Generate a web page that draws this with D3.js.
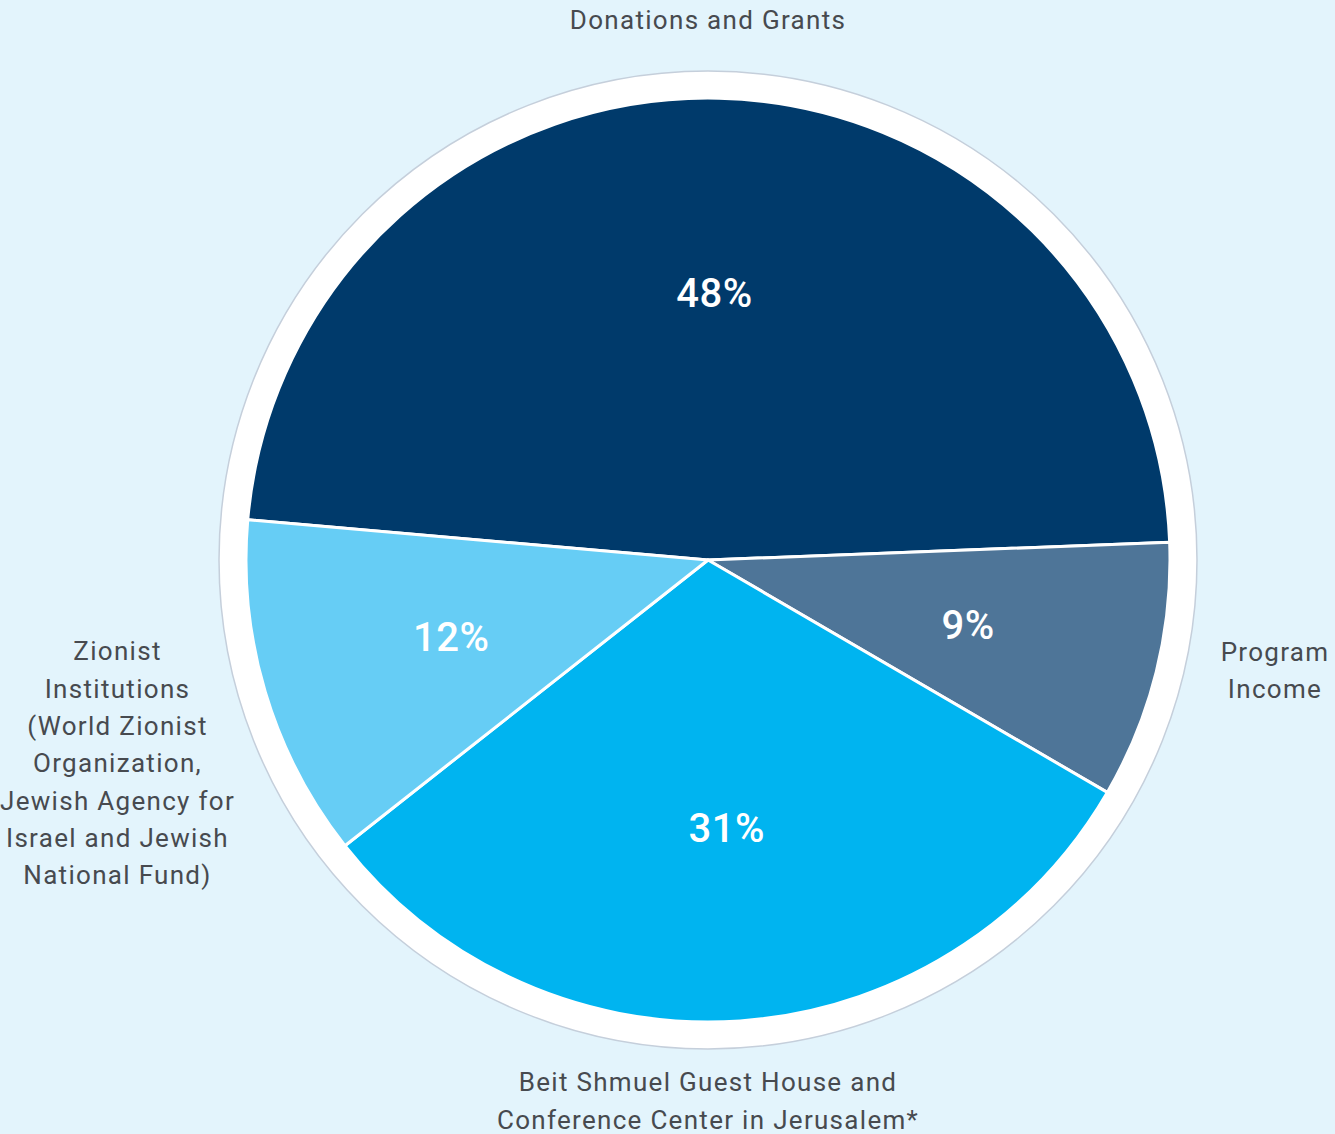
<!DOCTYPE html>
<html>
<head>
<meta charset="utf-8">
<script src="https://cdn.jsdelivr.net/npm/d3@7"></script>
<style>
  html, body { margin: 0; padding: 0; background: #e3f4fc; }
  svg { display: block; }
</style>
</head>
<body>
<div id="chart"></div>
<script>
// data
var categories = [
    ["Donations and Grants"],
    ["Program", "Income"],
    ["Beit Shmuel Guest House and", "Conference Center in Jerusalem*"],
    ["Zionist", "Institutions", "(World Zionist", "Organization,", "Jewish Agency for", "Israel and Jewish", "National Fund)"]
];
var values = [48, 9, 31, 12];
var colors = ["#003a6b", "#4e7598", "#00b4f0", "#66cdf5"];

var W = 1335, H = 1134;
var cx = 708, cy = 560;
var r = 462, ringR = 489;
var lineH = 37.3;

var svg = d3.select("#chart")
    .append("svg")
    .attr("width", W)
    .attr("height", H);

svg.append("rect")
    .attr("width", W)
    .attr("height", H)
    .attr("fill", "#e3f4fc");

var g = svg.append("g")
    .attr("transform", "translate(" + cx + "," + cy + ")");

// white ring behind the pie
g.append("circle")
    .attr("r", ringR)
    .attr("fill", "#fff")
    .attr("stroke", "#c5cfdb")
    .attr("stroke-width", 1.5);

var pie = d3.pie()
    .sort(null)
    .startAngle(-85 * Math.PI / 180)
    .endAngle(275 * Math.PI / 180);

var arcs = pie(values);

var arc = d3.arc().innerRadius(0).outerRadius(r);
var labelArc = d3.arc().innerRadius(r * 0.58).outerRadius(r * 0.58);

g.selectAll(".slice")
    .data(arcs)
    .enter()
    .append("path")
    .attr("class", "slice")
    .attr("d", arc)
    .attr("fill", function(d, i) { return colors[i]; })
    .attr("stroke", "#fff")
    .attr("stroke-width", 3)
    .attr("stroke-linejoin", "round");

g.selectAll(".pct")
    .data(arcs)
    .enter()
    .append("text")
    .attr("class", "pct")
    .attr("transform", function(d) {
        var c = labelArc.centroid(d);
        return "translate(" + c[0] + "," + c[1] + ")";
    })
    .attr("text-anchor", "middle")
    .attr("dy", "0.36em")
    .style("font-family", "Roboto, sans-serif")
    .style("font-weight", 500)
    .style("font-size", "40px")
    .style("letter-spacing", "0.5px")
    .attr("fill", "#fff")
    .text(function(d) { return d.value + "%"; });

// outer labels: top, right margin, bottom, left margin
var labelPos = [
    [cx, cy - ringR - 51, "top"],
    [(cx + ringR + W) / 2 + 9, cy + 110, "mid"],
    [cx, cy + ringR + 33, "top"],
    [(cx - ringR) / 2 + 8, cy + 203, "mid"]
];

categories.forEach(function(lines, i) {
    var p = labelPos[i];
    var y0 = p[2] === "mid" ? p[1] - (lines.length - 1) * lineH / 2 : p[1];
    var t = svg.append("text")
        .attr("text-anchor", "middle")
        .style("font-family", "Roboto, sans-serif")
        .style("font-size", "26px")
        .style("letter-spacing", "1.3px")
        .attr("fill", "#474a4f");
    lines.forEach(function(s, k) {
        t.append("tspan")
            .attr("x", p[0])
            .attr("y", y0 + k * lineH)
            .attr("dy", "0.36em")
            .text(s);
    });
});
</script>
</body>
</html>
